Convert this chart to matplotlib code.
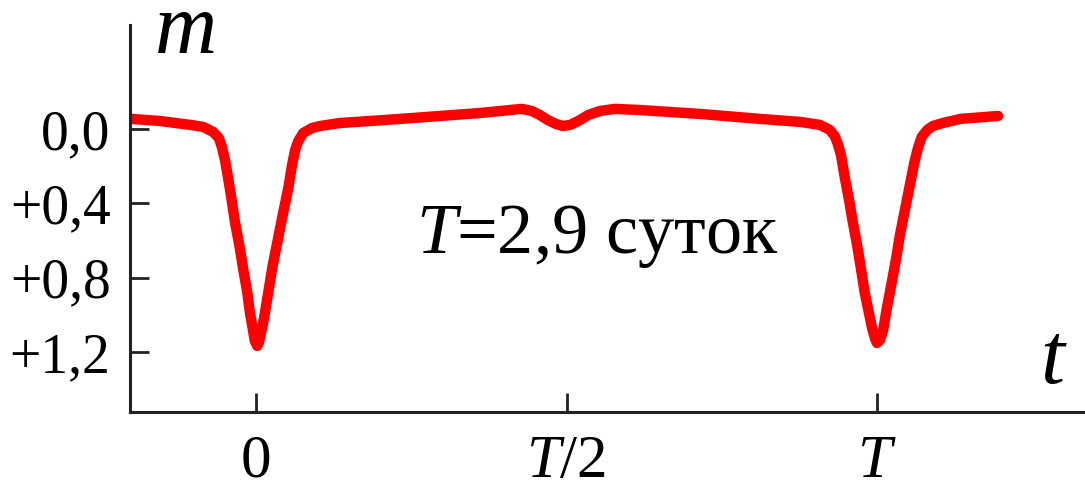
import matplotlib.pyplot as plt

plt.rcParams['font.family'] = ['Liberation Serif', 'DejaVu Serif']
plt.rcParams['mathtext.fontset'] = 'custom'
plt.rcParams['mathtext.rm'] = 'Liberation Serif'
plt.rcParams['mathtext.it'] = 'Liberation Serif:italic'

# light curve: phase in units of the period T, magnitude change m
phase = [-0.200, -0.155, -0.106, -0.085, -0.069, -0.060, -0.055, -0.050,
         -0.045, -0.040, -0.034, -0.027, -0.021, -0.014, -0.010, -0.005,
         -0.002, 0.002, 0.005, 0.008, 0.013, 0.019, 0.027, 0.035, 0.043,
         0.052, 0.058, 0.063, 0.068, 0.076, 0.090, 0.103, 0.135, 0.232,
         0.361, 0.409, 0.428, 0.444, 0.457, 0.470, 0.483, 0.494, 0.506,
         0.519, 0.535, 0.554, 0.578, 0.618, 0.715, 0.812, 0.876, 0.908,
         0.924, 0.932, 0.937, 0.942, 0.948, 0.955, 0.961, 0.968, 0.974,
         0.980, 0.987, 0.992, 0.997, 1.000, 1.005, 1.010, 1.016, 1.023,
         1.031, 1.037, 1.045, 1.053, 1.060, 1.066, 1.072, 1.081, 1.090,
         1.106, 1.134, 1.195]
mag = [-0.054, -0.043, -0.022, -0.011, 0.016, 0.048, 0.097, 0.167,
       0.263, 0.366, 0.500, 0.624, 0.747, 0.882, 0.984, 1.081,
       1.140, 1.167, 1.145, 1.097, 1.016, 0.892, 0.731, 0.597, 0.462,
       0.317, 0.194, 0.113, 0.065, 0.022, -0.005, -0.016, -0.032, -0.054,
       -0.086, -0.102, -0.108, -0.097, -0.075, -0.048, -0.027, -0.016, -0.022,
       -0.043, -0.075, -0.097, -0.108, -0.102, -0.081, -0.054, -0.038, -0.022,
       0.005, 0.038, 0.081, 0.140, 0.258, 0.382, 0.500, 0.624, 0.747,
       0.876, 0.989, 1.070, 1.129, 1.151, 1.134, 1.081, 0.962, 0.839,
       0.694, 0.570, 0.435, 0.301, 0.183, 0.102, 0.043, 0.005, -0.016,
       -0.032, -0.054, -0.070]

yticks = [0.0, 0.4, 0.8, 1.2]
ylabels = ['0,0', '+0,4', '+0,8', '+1,2']
xticks = [0, 0.5, 1]
xlabels = ['0', '$T$/2', '$T$']

fig = plt.figure(figsize=(10.85, 4.91), dpi=100)
ax = fig.add_axes([0.1198, 0.161, 0.8802, 0.788])

ax.plot(phase, mag, color='#ff0000', lw=7.5, solid_joinstyle='round',
        solid_capstyle='round')

ax.set_xlim(-0.203, 1.335)
ax.set_ylim(1.522, -0.559)

for s in ['top', 'right']:
    ax.spines[s].set_visible(False)
for s in ['left', 'bottom']:
    ax.spines[s].set_linewidth(2.2)
    ax.spines[s].set_color('#222222')

ax.set_yticks(yticks)
ax.set_yticklabels(ylabels)
ax.set_xticks(xticks)
ax.set_xticklabels(xlabels)
ax.tick_params(axis='y', direction='in', length=14, width=2, color='#222222',
               labelsize=40, pad=14)
ax.tick_params(axis='x', direction='in', length=14, width=2, color='#222222',
               labelsize=44, pad=16)

ax.text(0.549, 0.667, '$T$=2,9 суток', fontsize=52, ha='center',
        va='baseline')
fig.text(155 / 1085, 1 - 53 / 491, 'm', fontsize=62, style='italic',
         ha='left', va='baseline')
fig.text(1040 / 1085, 1 - 383 / 491, 't', fontsize=62, style='italic',
         ha='left', va='baseline')

fig.savefig('out.png', dpi=100)
